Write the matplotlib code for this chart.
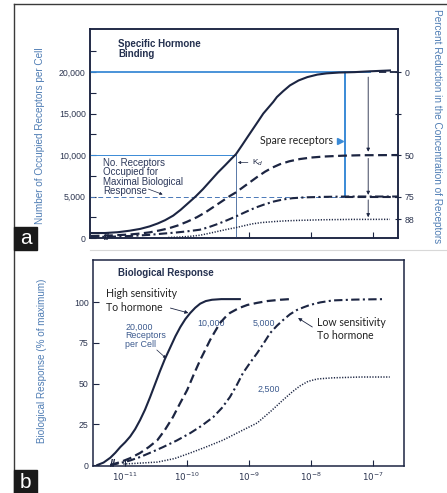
import numpy as np
import matplotlib.pyplot as plt
from matplotlib.patches import Rectangle
from matplotlib.lines import Line2D
from matplotlib.ticker import NullLocator, FixedLocator

# ---- panel a: specific hormone binding (x = log10 hormone conc.) ----
bind_20k_logc = [-11.55, -11.32, -11.11, -10.92, -10.75, -10.6, -10.47, -10.35, -10.22, -10.1,
                 -9.98, -9.86, -9.74, -9.62, -9.5, -9.38, -9.29, -9.21, -9.11, -9.03,
                 -8.94, -8.85, -8.77, -8.69, -8.61, -8.55, -8.45, -8.34, -8.2, -8.06,
                 -7.9, -7.75, -7.55, -7.3, -7.05, -6.73]
bind_20k = [600, 600, 700, 880, 1100, 1400, 1750, 2150, 2700, 3400,
            4200, 5000, 5900, 6900, 7900, 8800, 9500, 10100, 11200, 12100,
            13100, 14100, 15000, 15700, 16400, 17000, 17700, 18400, 19000, 19400,
            19700, 19850, 19950, 20000, 20100, 20200]
bind_10k_logc = [-11.55, -11.24, -10.92, -10.75, -10.6, -10.45, -10.3, -10.15, -10.0, -9.84,
                 -9.7, -9.56, -9.42, -9.3, -9.21, -9.1, -8.98, -8.86, -8.74, -8.62,
                 -8.5, -8.35, -8.18, -8.0, -7.8, -7.5, -7.2, -6.6]
bind_10k = [240, 300, 420, 540, 680, 900, 1150, 1500, 1950, 2500,
            3100, 3800, 4500, 5100, 5500, 6100, 6750, 7400, 8000, 8500,
            8900, 9250, 9520, 9700, 9820, 9920, 9980, 10000]
bind_5k_logc = [-11.55, -11.2, -10.9, -10.6, -10.4, -10.19, -10.0, -9.79, -9.65, -9.5,
                -9.35, -9.21, -9.05, -8.9, -8.75, -8.6, -8.45, -8.3, -8.1, -7.8,
                -7.4, -6.6]
bind_5k = [120, 160, 250, 380, 520, 650, 800, 1000, 1300, 1700,
           2150, 2600, 3150, 3650, 4050, 4400, 4650, 4800, 4900, 4960,
           5000, 5000]
bind_2k_logc = [-10.3, -10.11, -9.95, -9.79, -9.65, -9.5, -9.35, -9.21, -9.08, -8.95,
                -8.8, -8.6, -8.4, -8.18, -7.8, -7.37, -6.73]
bind_2k = [60, 120, 200, 330, 550, 800, 1050, 1250, 1480, 1700,
           1860, 1980, 2070, 2130, 2200, 2240, 2250]

left_ticks = [0, 5000, 10000, 15000, 20000]
left_labels = ['0', '5,000', '10,000', '15,000', '20,000']
right_ticks = [20000, 15000, 10000, 5000, 2250]
right_labels = ['0', '', '50', '75', '88']
kd_logc = -9.21
spare_logc = -7.45
arrow_logc = -7.08

# ---- panel b: biological response ----
resp_20k_logc = [-11.45, -11.35, -11.24, -11.16, -11.08, -11.0, -10.92, -10.84, -10.76, -10.68,
                 -10.6, -10.52, -10.44, -10.36, -10.27, -10.19, -10.11, -10.03, -9.95, -9.87,
                 -9.79, -9.7, -9.6, -9.45, -9.15]
resp_20k = [0, 1.5, 4.5, 7.5, 11, 14, 17.5, 22, 27.6, 34,
            41.5, 49.5, 57.5, 65, 72.4, 79, 84.7, 89.5, 93.3, 96.5,
            99, 100.6, 101.4, 101.8, 101.8]
resp_10k_logc = [-11.24, -11.08, -10.92, -10.76, -10.62, -10.48, -10.36, -10.23, -10.12, -10.0,
                 -9.9, -9.79, -9.71, -9.63, -9.55, -9.47, -9.39, -9.31, -9.17, -9.03,
                 -8.87, -8.71, -8.5, -8.34]
resp_10k = [0, 1.8, 4.2, 7.4, 11, 15.3, 21.5, 29.4, 37.5, 46,
            55, 64.4, 70.5, 76.7, 82, 87.1, 90.5, 93.3, 96.2, 98.2,
            99.5, 100.6, 101.4, 101.8]
resp_5k_logc = [-11.24, -11.08, -10.92, -10.76, -10.58, -10.39, -10.17, -9.95, -9.77, -9.58,
                -9.44, -9.31, -9.2, -9.1, -8.98, -8.87, -8.76, -8.66, -8.55, -8.45,
                -8.34, -8.23, -8.12, -8.02, -7.85, -7.65, -7.3, -6.81]
resp_5k = [0, 1.2, 2.8, 4.9, 7.8, 11, 15, 19.6, 24, 29.4,
           35, 41.7, 49, 56.4, 63, 68.7, 75, 81, 85.5, 89,
           92.5, 95.1, 96.8, 98.2, 99.8, 101, 101.5, 101.8]
resp_2k_logc = [-11.03, -10.75, -10.48, -10.2, -9.95, -9.7, -9.42, -9.15, -8.87, -8.65,
                -8.45, -8.3, -8.18, -8.05, -7.9, -7.65, -7.2, -6.73]
resp_2k = [0.6, 1.2, 1.8, 4, 7.4, 11, 15.3, 20.5, 25.8, 33,
           40, 45, 48.5, 51.3, 52.8, 53.5, 54, 54]

resp_ticks = [0, 25, 50, 75, 100]
conc_ticks = [-11, -10, -9, -8, -7]

ink = '#1c2542'
blue = '#3a8ad6'
label_blue = '#4f7db4'
tick_font = 'Liberation Sans'
note_font = 'Lato'

fig = plt.figure(figsize=(4.47, 4.93), dpi=100)
W, H = 447, 493


def pos(x0, y0, x1, y1):
    return [x0 / W, 1 - y1 / H, (x1 - x0) / W, (y1 - y0) / H]


def c(l):
    return 10.0 ** np.asarray(l)


# ================= panel a =================
ax1 = fig.add_axes(pos(90, 29, 398, 238))
ax1.set_xscale('log')
ax1.set_xlim(c(-11.56), c(-6.60))
ax1.set_ylim(0, 25200)

ax1.plot(c(bind_20k_logc), bind_20k, color=ink, lw=1.5, zorder=4)
ax1.plot(c(bind_10k_logc), bind_10k, color=ink, lw=1.6, dashes=(4, 2), zorder=4)
ax1.plot(c(bind_5k_logc), bind_5k, color=ink, lw=1.5, dashes=(4, 1.6, 1, 1.6), zorder=4)
ax1.plot(c(bind_2k_logc), bind_2k, color=ink, lw=1.1, dashes=(0.8, 1.0), zorder=4)

# reference lines
ax1.plot(c([-11.56, -7.05]), [20000, 20000], color=blue, lw=1.3, zorder=3)
ax1.plot(c([-6.9, -6.60]), [20000, 20000], color=ink, lw=1.3, dashes=(4, 2), zorder=3)
ax1.plot(c([spare_logc, spare_logc]), [20000, 5000], color=blue, lw=1.4, zorder=3)
ax1.plot(c([-11.56, kd_logc]), [10000, 10000], color=blue, lw=0.7, zorder=3)
ax1.plot(c([kd_logc, kd_logc]), [10000, 0], color='#5878a8', lw=0.7, zorder=3)
ax1.plot(c([-11.56, spare_logc]), [5000, 5000], color='#4a78b8', lw=0.7, dashes=(5, 3), zorder=3)
ax1.plot(c([spare_logc, -6.60]), [5000, 5000], color=ink, lw=1.5, dashes=(4, 2), zorder=3)

for y0, y1 in [(19400, 10400), (9600, 5200), (4600, 2500)]:
    ax1.annotate('', xy=(c(arrow_logc), y1), xytext=(c(arrow_logc), y0),
                 arrowprops=dict(arrowstyle='-|>', lw=0.6, color=ink, mutation_scale=5,
                                 shrinkA=0, shrinkB=0))

ax1.plot(c(-7.53), 11700, marker='>', color=blue, ms=4, zorder=5)
ax1.text(c(-7.65), 11700, 'Spare receptors', family=note_font, fontsize=7.6, color='#222222',
         ha='right', va='center')
ax1.annotate('K$_d$', xy=(c(kd_logc + 0.03), 9100), xytext=(c(-8.95), 9100),
             fontsize=6, color=ink, family=tick_font, va='center',
             arrowprops=dict(arrowstyle='-|>', lw=0.5, color=ink, mutation_scale=4,
                             shrinkA=1, shrinkB=0))
ax1.text(c(-11.35), 9700, 'No. Receptors\nOccupied for\nMaximal Biological\nResponse',
         family=tick_font, fontsize=7, color='#2e3a5c', va='top', ha='left', linespacing=0.95)
ax1.annotate('', xy=(c(-10.39), 5250), xytext=(c(-10.62), 5900),
             arrowprops=dict(arrowstyle='-|>', lw=0.5, color=ink, mutation_scale=4,
                             shrinkA=0, shrinkB=0))
ax1.text(c(-11.11), 24000, 'Specific Hormone\nBinding', family=tick_font, fontsize=7,
         fontweight='bold', color='#24304f', va='top', ha='left', linespacing=1.0)
ax1.text(c(-11.28), 150, '//', fontsize=8, color=ink, ha='center', va='center',
         family=tick_font, fontweight='bold')

ax1.yaxis.set_major_locator(FixedLocator(left_ticks))
ax1.set_yticklabels(left_labels)
ax1.yaxis.set_minor_locator(FixedLocator([2500, 7500, 12500, 17500, 22500]))
ax1.xaxis.set_major_locator(FixedLocator(c([-9, -8, -7])))
ax1.xaxis.set_minor_locator(NullLocator())
ax1.set_xticklabels([])
ax1.tick_params(axis='y', which='both', direction='in', length=4, width=0.8, color=ink,
                labelsize=6.3, labelcolor='#2c3550', pad=3, right=False)
ax1.tick_params(axis='x', which='major', direction='in', length=4, width=0.8, color=ink)
for lab in ax1.get_yticklabels():
    lab.set_family(tick_font)

axr = ax1.twinx()
axr.set_ylim(ax1.get_ylim())
axr.yaxis.set_major_locator(FixedLocator(right_ticks))
axr.set_yticklabels(right_labels)
axr.tick_params(axis='y', direction='inout', length=5, width=0.8, color=ink,
                labelsize=6.3, labelcolor='#2c3550', pad=2)
for lab in axr.get_yticklabels():
    lab.set_family(tick_font)

for a in (ax1, axr):
    for s in a.spines.values():
        s.set_color(ink)
        s.set_linewidth(1.1)

# ================= panel b =================
ax2 = fig.add_axes(pos(93, 260, 404, 466))
ax2.set_xscale('log')
ax2.set_xlim(c(-11.52), c(-6.50))
ax2.set_ylim(-0.6, 125.8)

ax2.plot(c(resp_20k_logc), resp_20k, color=ink, lw=1.5, zorder=4)
ax2.plot(c(resp_10k_logc), resp_10k, color=ink, lw=1.6, dashes=(4, 2), zorder=4)
ax2.plot(c(resp_5k_logc), resp_5k, color=ink, lw=1.5, dashes=(4, 1.6, 1, 1.6), zorder=4)
ax2.plot(c(resp_2k_logc), resp_2k, color=ink, lw=1.1, dashes=(0.8, 1.0), zorder=4)

ax2.text(c(-11.11), 117.8, 'Biological Response', family=tick_font, fontsize=7,
         fontweight='bold', color='#24304f', va='center', ha='left')
ax2.text(c(-11.31), 101, 'High sensitivity\nTo hormone', family=note_font, fontsize=7.6,
         color='#222222', va='center', ha='left', linespacing=1.25)
ax2.annotate('', xy=(c(-9.98), 93.3), xytext=(c(-10.27), 96.3),
             arrowprops=dict(arrowstyle='-|>', lw=0.6, color=ink, mutation_scale=5,
                             shrinkA=0, shrinkB=0))
ax2.text(c(-11.0), 87.5, '20,000\nReceptors\nper Cell', family=tick_font, fontsize=6.4,
         color='#3c5a8e', va='top', ha='left', linespacing=0.95)
ax2.annotate('', xy=(c(-10.34), 65.5), xytext=(c(-10.49), 70.6),
             arrowprops=dict(arrowstyle='-|>', lw=0.5, color=ink, mutation_scale=4,
                             shrinkA=0, shrinkB=0))
ax2.text(c(-9.61), 87, '10,000', family=tick_font, fontsize=6.4, color='#3c5a8e',
         ha='center', va='center')
ax2.text(c(-8.76), 87, '5,000', family=tick_font, fontsize=6.4, color='#3c5a8e',
         ha='center', va='center')
ax2.text(c(-8.68), 46.6, '2,500', family=tick_font, fontsize=6.4, color='#3c5a8e',
         ha='center', va='center')
ax2.text(c(-7.90), 83.5, 'Low sensitivity\nTo hormone', family=note_font, fontsize=7.6,
         color='#222222', va='center', ha='left', linespacing=1.25)
ax2.annotate('', xy=(c(-8.21), 90.2), xytext=(c(-7.98), 84.7),
             arrowprops=dict(arrowstyle='-|>', lw=0.6, color=ink, mutation_scale=5,
                             shrinkA=0, shrinkB=0))
ax2.text(c(-11.2), 0.5, '//', fontsize=8, color=ink, ha='center', va='center',
         family=tick_font, fontweight='bold')

ax2.yaxis.set_major_locator(FixedLocator(resp_ticks))
ax2.set_yticklabels([str(t) for t in resp_ticks])
ax2.xaxis.set_major_locator(FixedLocator(c(conc_ticks)))
ax2.xaxis.set_minor_locator(NullLocator())
ax2.set_xticklabels(['$10^{%d}$' % t for t in conc_ticks])
ax2.tick_params(direction='in', length=4, width=0.8, color=ink, labelsize=6.3,
                labelcolor='#2c3550', pad=3)
for lab in ax2.get_yticklabels() + ax2.get_xticklabels():
    lab.set_family(tick_font)
for s in ax2.spines.values():
    s.set_color(ink)
    s.set_linewidth(1.1)

# ---- axis titles ----
fig.text(40 / W, 1 - 136 / H, 'Number of Occupied Receptors per Cell', rotation=90,
         ha='center', va='center', fontsize=7.2, color=label_blue, family=tick_font)
fig.text(437 / W, 1 - 126 / H, 'Percent Reduction in the Concentration of Receptors',
         rotation=270, ha='center', va='center', fontsize=7.2, color=label_blue,
         family=tick_font)
fig.text(42 / W, 1 - 361 / H, 'Biological Response (% of maximum)', rotation=90,
         ha='center', va='center', fontsize=7.1, color=label_blue, family=tick_font)

# ---- frame and panel tags ----
fig.add_artist(Line2D([14 / W, 1], [1 - 4 / H, 1 - 4 / H], transform=fig.transFigure,
                      color='#3a3a3a', lw=1))
fig.add_artist(Line2D([14 / W, 14 / W], [0, 1 - 4 / H], transform=fig.transFigure,
                      color='#3a3a3a', lw=1))
fig.add_artist(Line2D([90 / W, 1], [1 - 250 / H, 1 - 250 / H], transform=fig.transFigure,
                      color='#d8d8d8', lw=0.8))
for tag, ytop in [('a', 227), ('b', 470)]:
    fig.add_artist(Rectangle((14 / W, 1 - (ytop + 23) / H), 23 / W, 23 / H,
                             transform=fig.transFigure, color='#1a1a1a', zorder=10))
    fig.text(25.5 / W, 1 - (ytop + 12) / H, tag, color='white', fontsize=15,
             ha='center', va='center', family=tick_font, zorder=11)

fig.savefig('out.png', dpi=100)
